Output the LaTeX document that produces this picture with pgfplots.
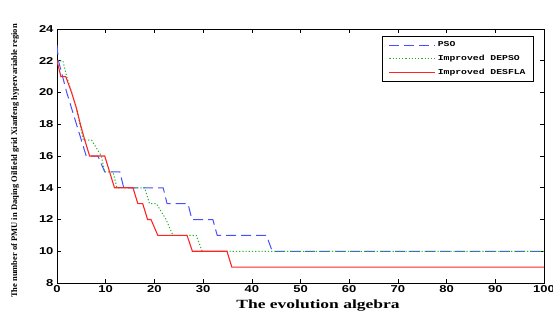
\documentclass[border=0pt]{standalone}
\usepackage{fontspec}
\setmainfont{Liberation Serif}
\newfontfamily\tickfont[FakeStretch=1.3]{Liberation Sans}
\newfontfamily\legfont[FakeStretch=1.3]{Liberation Mono}
\newfontfamily\xlabfont[FakeStretch=1.4]{Liberation Serif}
\usepackage{pgfplots}
\pgfplotsset{compat=1.18}
\definecolor{psoblue}{RGB}{70,80,255}
\definecolor{depsogreen}{RGB}{40,175,40}
\definecolor{desflared}{RGB}{255,35,35}
\begin{document}
\begin{tikzpicture}
\path[use as bounding box] (0pt,0pt) rectangle (553pt,322pt);
\begin{axis}[
  at={(57pt,39pt)}, anchor=south west,
  scale only axis, width=487pt, height=254pt,
  xmin=0, xmax=100, ymin=8, ymax=24,
  xtick={0,10,...,100}, ytick={8,10,...,24},
  tick align=inside, major tick length=4pt,
  every tick/.style={black, line width=0.6pt},
  axis line style={black, line width=1pt},
  /pgf/number format/assume math mode=true,
  tick label style={font=\tickfont\bfseries\fontsize{10}{12}\selectfont},
  xticklabel style={yshift=1pt},
  xlabel={\xlabfont\bfseries\fontsize{12.5}{14}\selectfont The evolution algebra},
  xlabel style={at={(axis description cs:0.536,-0.0906)}, anchor=center},
  ylabel={\bfseries\fontsize{8.5}{10}\selectfont The number of PMU in Daqing Oilfield grid Xianfeng hypervariable region},
  ylabel style={at={(axis description cs:-0.0863,0.48)}, anchor=center, rotate=0},
  legend style={at={(axis description cs:0.9795,0.9724)}, anchor=north east,
    draw=black, line width=0.9pt, fill=white,
    font=\legfont\bfseries\fontsize{7.5}{9}\selectfont,
    inner xsep=6pt, inner ysep=3.5pt, row sep=3pt},
  legend cell align=left,
  legend image code/.code={\draw[#1, line width=1pt] (0pt,0pt) -- (46pt,0pt);},
]
\addplot[psoblue, line width=1pt, dash pattern=on 10pt off 5pt] coordinates {
(0,23) (0.3,22) (2,20) (3,19) (4,18) (5,17) (6,16) (8.4,16) (9.8,15) (12.9,15) (13.7,14)
(21.8,14) (22.6,13) (26.9,13) (27.7,12) (32,12) (32.9,11) (43,11) (44.2,10) (100,10)};
\addlegendentry{PSO}
\addplot[depsogreen, line width=1pt, dash pattern=on 1.2pt off 2pt] coordinates {
(0,22) (1.2,22) (2,21) (3,20) (4,19) (5.4,17) (7.1,17) (9.1,16) (9.8,15) (11.5,15) (12.3,14)
(18,14) (19,13) (20.4,13) (22.4,12) (23.8,11) (28.6,11) (29.8,10) (100,10)};
\addlegendentry{Improved DEPSO}
\addplot[desflared, line width=1.1pt] coordinates {
(0,22) (0.8,21) (1.8,21) (3,20) (4,19) (4.8,18) (5.7,17) (6.7,16) (9.8,16) (10.8,15) (11.8,14)
(15.6,14) (16.6,13) (17.6,13) (18.6,12) (19.3,12) (20.7,11) (26.7,11) (27.8,10) (34.9,10) (35.9,9) (100,9)};
\addlegendentry{Improved DESFLA}
\end{axis}
\end{tikzpicture}
\end{document}
